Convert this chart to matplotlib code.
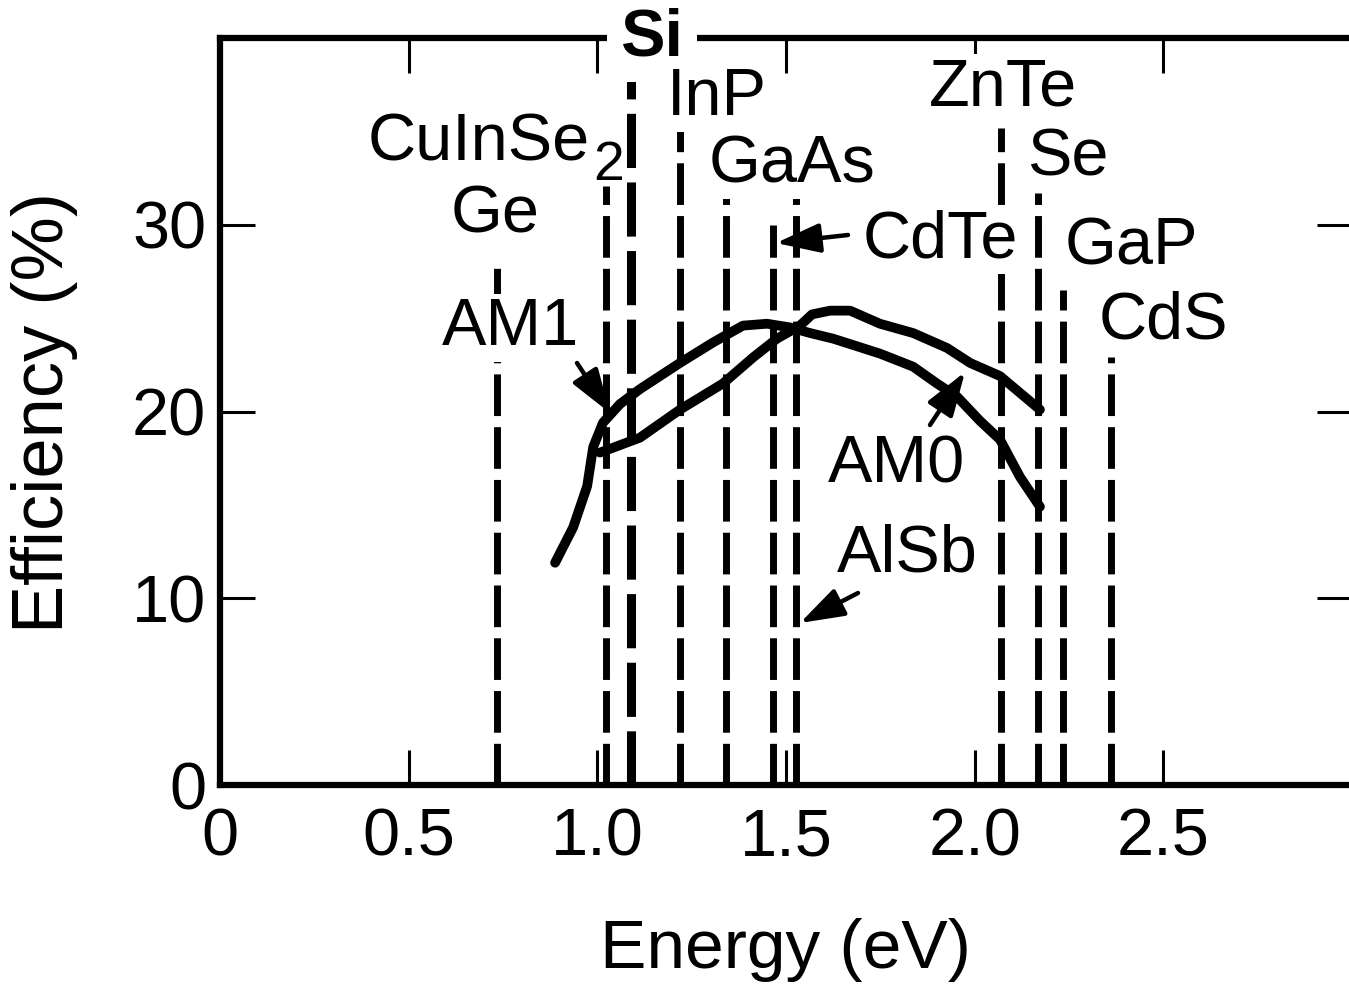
import matplotlib
matplotlib.use("Agg")
import matplotlib.pyplot as plt

# ---------------- data ----------------
materials = ["Ge", "CuInSe2", "Si", "InP", "GaAs", "CdTe", "AlSb", "ZnTe", "Se", "GaP", "CdS"]
band_gap_ev = [0.733, 1.024, 1.090, 1.220, 1.341, 1.466, 1.526, 2.071, 2.169, 2.235, 2.360]
line_top_pct = [28.2, 32.1, 38.0, 35.0, 31.7, 30.0, 31.5, 35.2, 31.7, 26.5, 22.9]

curve_a_energy = [0.888, 0.936, 0.973, 0.989, 1.015, 1.060, 1.113, 1.219, 1.307, 1.386,
                  1.450, 1.511, 1.564, 1.625, 1.749, 1.837, 1.900, 1.953, 2.014, 2.067,
                  2.120, 2.173]
curve_a_eff = [11.9, 13.8, 16.0, 18.1, 19.4, 20.4, 21.2, 22.6, 23.7, 24.6,
               24.7, 24.5, 24.2, 23.9, 23.1, 22.4, 21.5, 20.8, 19.5, 18.5,
               16.5, 14.9]

curve_b_energy = [1.007, 1.113, 1.219, 1.333, 1.413, 1.476, 1.537, 1.569, 1.617, 1.670,
                  1.749, 1.837, 1.927, 1.988, 2.067, 2.120, 2.173]
curve_b_eff = [17.8, 18.6, 20.1, 21.5, 22.9, 23.9, 24.6, 25.2, 25.4, 25.4,
               24.7, 24.2, 23.4, 22.6, 21.9, 21.0, 20.1]

x_ticks = [0, 0.5, 1.0, 1.5, 2.0, 2.5]
x_tick_labels = ["0", "0.5", "1.0", "1.5", "2.0", "2.5"]
y_ticks = [0, 10, 20, 30]
y_tick_labels = ["0", "10", "20", "30"]

# ---------------- figure ----------------
plt.rcParams["font.family"] = ["Liberation Sans", "DejaVu Sans"]
W, H = 1349, 988
fig = plt.figure(figsize=(W / 100, H / 100), dpi=100)
left_px, right_px, top_px, bot_px = 220, 1352, 38, 785
ax = fig.add_axes([left_px / W, 1 - bot_px / H, (right_px - left_px) / W, (bot_px - top_px) / H])
ax.set_xlim(0, 3.0)
ax.set_ylim(0, 40)

for s in ["left", "bottom", "top"]:
    ax.spines[s].set_linewidth(4.5)
ax.spines["right"].set_visible(False)

ax.set_xticks(x_ticks)
ax.set_xticklabels(x_tick_labels)
ax.set_yticks(y_ticks)
ax.set_yticklabels(y_tick_labels)
ax.tick_params(axis="both", direction="in", length=25, width=2.2, labelsize=48,
               top=True, right=True)
ax.tick_params(axis="x", pad=16)
ax.tick_params(axis="y", pad=10)

ax.set_xlabel("Energy (eV)", fontsize=50, va="center")
ax.xaxis.set_label_coords((785 - left_px) / (right_px - left_px), (bot_px - 950) / (bot_px - top_px))
ax.set_ylabel("Efficiency (%)", fontsize=52, va="center")
ax.yaxis.set_label_coords((45 - left_px) / (right_px - left_px), (bot_px - 412) / (bot_px - top_px))

# dashed band-gap lines
for name, xg, yt in zip(materials, band_gap_ev, line_top_pct):
    lw = 6.5 if name == "Si" else 5.0
    ax.plot([xg, xg], [0, yt], color="black", lw=lw,
            linestyle=(0, (6.0, 1.6)), solid_capstyle="butt", zorder=2)

# efficiency curves
ax.plot(curve_a_energy, curve_a_eff, color="black", lw=7, solid_joinstyle="round",
        solid_capstyle="round", zorder=3)
ax.plot(curve_b_energy, curve_b_eff, color="black", lw=7, solid_joinstyle="round",
        solid_capstyle="round", zorder=3)

# text labels
def px2data(px, py):
    return (px - left_px) / ((right_px - left_px) / 3.0), (bot_px - py) / ((bot_px - top_px) / 40.0)

x, y = px2data(652, 38)
ax.text(x, y, "Si", fontsize=48, fontweight="bold", ha="center", va="center",
        bbox=dict(boxstyle="square,pad=0.2", fc="white", ec="none"), zorder=6, clip_on=False)

box = dict(boxstyle="square,pad=0.05", fc="white", ec="none")
labels = [
    ("InP", 717, 98), ("GaAs", 792, 165), ("Ge", 495, 215), ("CdTe", 940, 240),
    ("ZnTe", 1003, 88), ("Se", 1068, 158), ("GaP", 1131, 247), ("CdS", 1163, 321),
    ("AM1", 510, 328), ("AM0", 896, 465), ("AlSb", 907, 555),
]
for txt, px, py in labels:
    x, y = px2data(px, py)
    ax.text(x, y, txt, fontsize=48, ha="center", va="center", bbox=box, zorder=7)

x, y = px2data(590, 160)
ax.text(x, y, "CuInSe", fontsize=48, ha="right", va="baseline", bbox=box, zorder=7)
x, y = px2data(593, 180)
ax.text(x, y, "2", fontsize=40, ha="left", va="baseline", zorder=7)

# arrows
arrows = [
    ((577, 363), (610, 413)),   # AM1
    ((930, 425), (965, 372)),   # AM0
    ((858, 593), (800, 623)),   # AlSb
    ((848, 235), (776, 243)),   # CdTe
]
for (tx, ty), (hx, hy) in arrows:
    ax.annotate("", xy=px2data(hx, hy), xytext=px2data(tx, ty),
                arrowprops=dict(arrowstyle="-|>,head_length=0.9,head_width=0.3",
                                lw=3.2, color="black", shrinkA=0, shrinkB=0,
                                mutation_scale=30), zorder=8)

fig.savefig("out.png", dpi=100, facecolor="white")
